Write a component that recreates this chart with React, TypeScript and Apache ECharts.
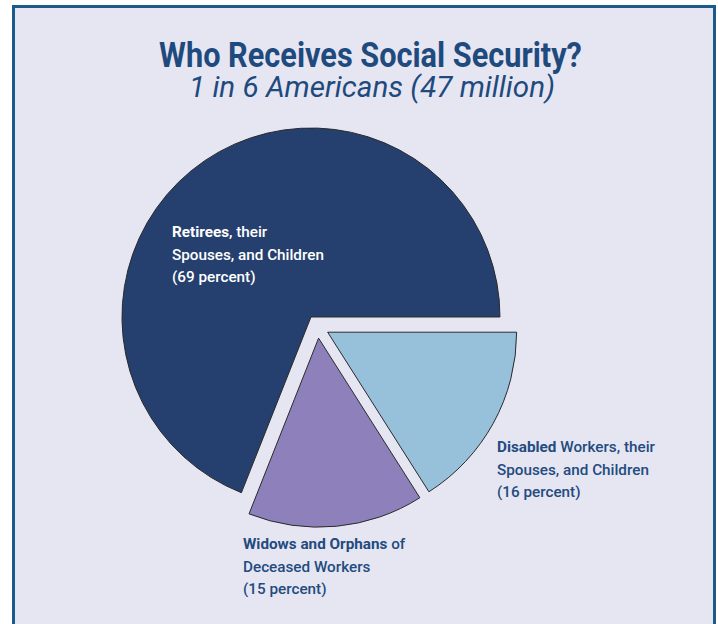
import React, { useEffect, useRef } from "react";
import * as echarts from "echarts";

const titleText = "Who Receives Social Security?";
const subtitleText = "1 in 6 Americans (47 million)";
const categories = ["Disabled", "Widows and Orphans", "Retirees"];
const percents = [16, 15, 69];
const sliceColors = ["#97c0da", "#8e80bb", "#253f6e"];
const labelLines: string[][] = [
  ["{b|Disabled} Workers, their", "Spouses, and Children", "(16 percent)"],
  ["{b|Widows and Orphans} of", "Deceased Workers", "(15 percent)"],
  ["{b|Retirees}, their", "Spouses, and Children", "(69 percent)"],
];

const FONT = "Roboto, 'Liberation Sans', Arial, sans-serif";

function measure(text: string, font: string): number {
  const c = document.createElement("canvas");
  const ctx = c.getContext("2d")!;
  ctx.font = font;
  return ctx.measureText(text).width;
}

export default function App() {
  const ref = useRef<HTMLDivElement>(null);
  useEffect(() => {
    if (!ref.current) return;
    const chart = echarts.init(ref.current, undefined, { renderer: "svg" });

    const titleSize = 35;
    const subSize = 29;
    const labSize = 15.5;
    const titleScale = 423 / measure(titleText, `bold ${titleSize}px ${FONT}`);
    const subScale = 366 / measure(subtitleText, `italic ${subSize}px ${FONT}`);
    const labScale = 152 / measure("Spouses, and Children", `500 ${labSize}px ${FONT}`);

    const labelPos = [
      { x: 497, y: 447, color: "#234b7f" },
      { x: 243, y: 544, color: "#234b7f" },
      { x: 172, y: 232, color: "#ffffff" },
    ];
    const lineGap = 22.5;

    const labelEls: any[] = [];
    labelLines.forEach((lines, i) => {
      const p = labelPos[i];
      lines.forEach((ln, j) => {
        const txt = ln.replace(/\(\d+ percent\)/, `(${percents[i]} percent)`);
        labelEls.push({
          type: "text",
          x: p.x,
          y: p.y + j * lineGap,
          scaleX: labScale,
          z: 100,
          silent: true,
          style: {
            text: txt,
            x: 0,
            y: 0,
            fill: p.color,
            fontSize: labSize,
            fontWeight: 500,
            fontFamily: FONT,
            textAlign: "left",
            textVerticalAlign: "middle",
            verticalAlign: "middle",
            rich: {
              b: {
                fontWeight: "bold",
                fontSize: labSize,
                fontFamily: FONT,
                fill: p.color,
                color: p.color,
              },
            },
          },
        });
      });
    });

    chart.setOption({
      animation: false,
      backgroundColor: "#ffffff",
      graphic: [
        {
          type: "rect",
          z: 0,
          silent: true,
          shape: { x: 13.5, y: 6.5, width: 701, height: 700 },
          style: { fill: "#e6e6f2", stroke: "#1d5a8c", lineWidth: 3 },
        },
        {
          type: "text",
          x: 370.5,
          y: 54.5,
          scaleX: titleScale,
          z: 100,
          silent: true,
          style: {
            text: titleText,
            x: 0,
            y: 0,
            fill: "#1f4a7e",
            fontSize: titleSize,
            fontWeight: "bold",
            fontFamily: FONT,
            textAlign: "center",
            textVerticalAlign: "middle",
            verticalAlign: "middle",
          },
        },
        {
          type: "text",
          x: 372,
          y: 87.5,
          scaleX: subScale,
          z: 100,
          silent: true,
          style: {
            text: subtitleText,
            x: 0,
            y: 0,
            fill: "#1f4a7e",
            fontSize: subSize,
            fontStyle: "italic",
            fontFamily: FONT,
            textAlign: "center",
            textVerticalAlign: "middle",
            verticalAlign: "middle",
          },
        },
        ...labelEls,
      ],
      series: [
        {
          type: "pie",
          z: 2,
          center: [317.5, 326.6],
          radius: 189,
          startAngle: 0,
          clockwise: true,
          selectedMode: "multiple",
          selectedOffset: 11.6,
          silent: true,
          label: { show: false },
          labelLine: { show: false },
          emphasis: { disabled: true },
          itemStyle: { borderColor: "#2a2a2a", borderWidth: 1 },
          data: categories.map((c, i) => ({
            name: c,
            value: percents[i],
            selected: true,
            itemStyle: { color: sliceColors[i] },
          })),
        },
      ],
    });
    return () => chart.dispose();
  }, []);
  return (
    <div
      ref={ref}
      style={{ position: "fixed", left: 0, top: 0, width: 718, height: 624 }}
    />
  );
}
